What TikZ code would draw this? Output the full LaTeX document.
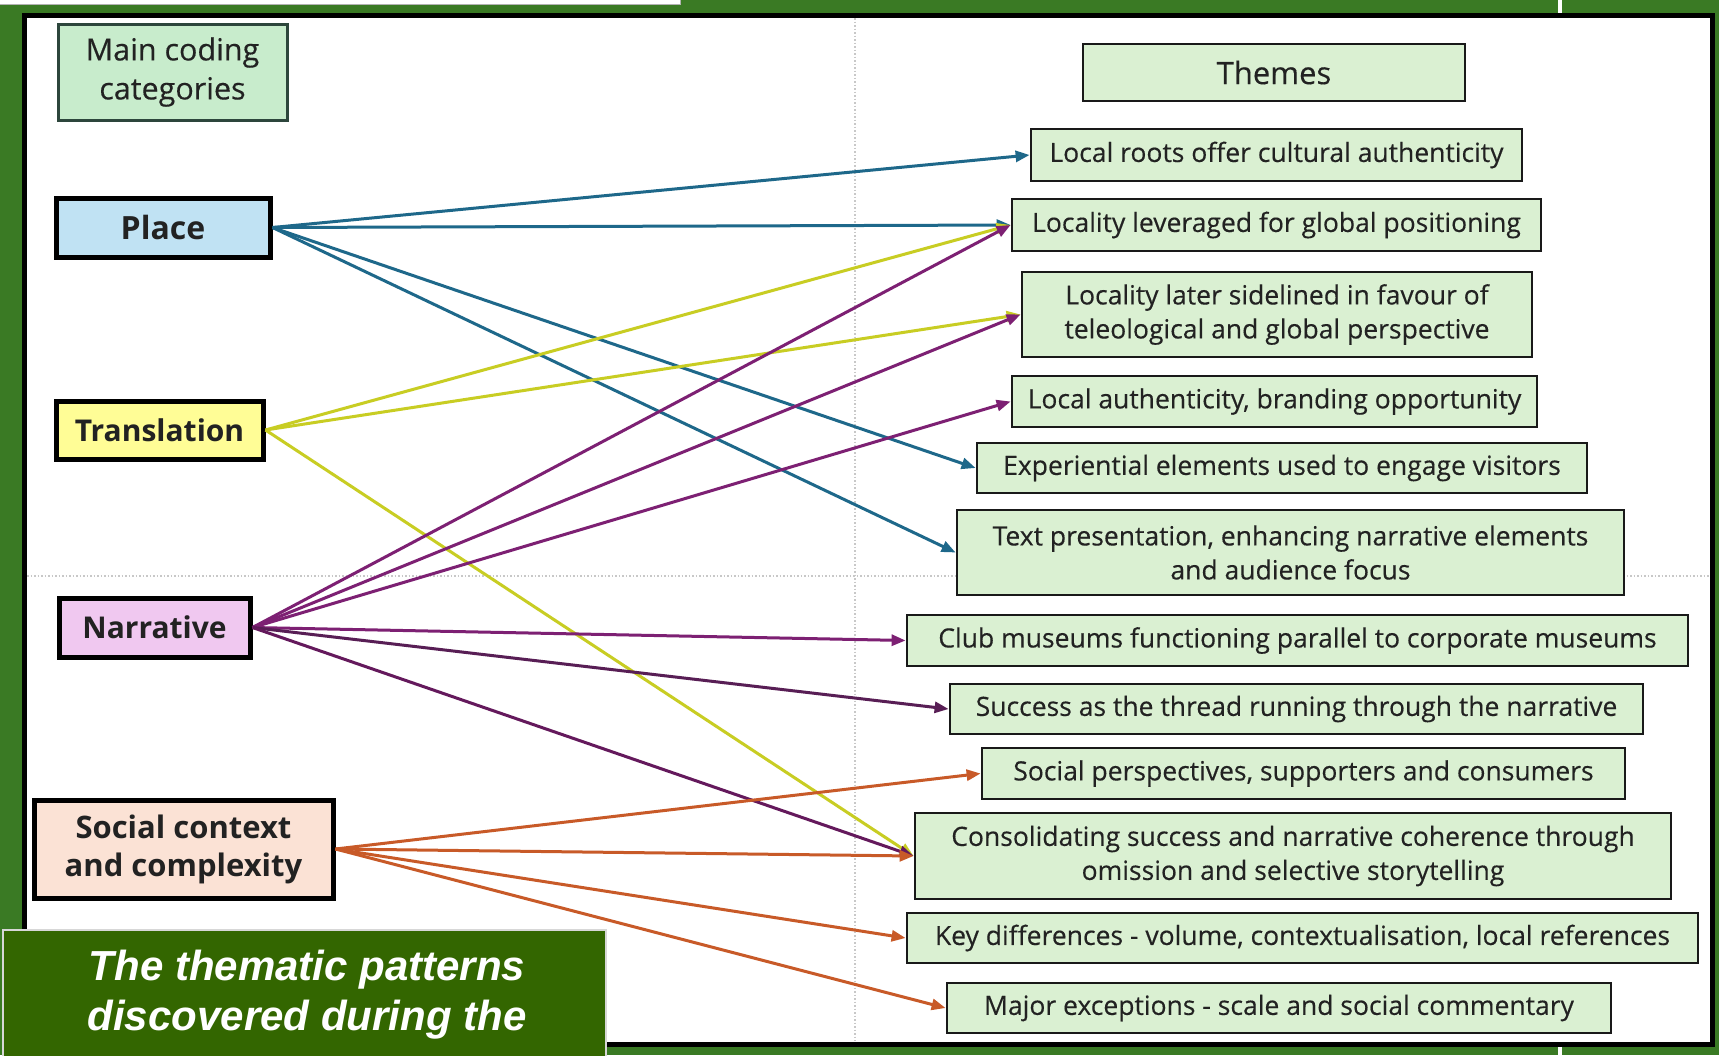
\documentclass[tikz,border=0pt]{standalone}
\usepackage{fontspec}
\setmainfont{Open Sans}
\newfontfamily\themefont[FakeBold=0.3]{Open Sans}
\newfontfamily\capfont{Liberation Sans}
\usetikzlibrary{arrows.meta}
\definecolor{grass}{RGB}{58,122,36}
\definecolor{themefill}{RGB}{218,240,210}
\definecolor{catfill}{RGB}{200,236,204}
\definecolor{catborder}{RGB}{45,70,60}
\definecolor{placefill}{RGB}{192,226,243}
\definecolor{translfill}{RGB}{255,253,150}
\definecolor{narrfill}{RGB}{240,200,240}
\definecolor{socfill}{RGB}{251,226,213}
\definecolor{placec}{RGB}{30,104,138}
\definecolor{translc}{RGB}{200,205,35}
\definecolor{narrc}{RGB}{125,32,115}
\definecolor{narrdark}{RGB}{88,30,85}
\definecolor{socc}{RGB}{200,90,40}
\definecolor{capgreen}{RGB}{51,102,0}
\definecolor{capborder}{RGB}{215,215,215}
\definecolor{divc}{RGB}{200,200,200}
\definecolor{txt}{RGB}{34,34,34}
\begin{document}
\begin{tikzpicture}[x=1pt,y=-1pt,
  theme/.style={draw=black!90, line width=2.8pt, fill=themefill, text=txt,
    font=\themefont\fontsize{26.5}{34}\selectfont, align=center, inner sep=0pt},
  cat/.style={draw=black, line width=5pt, text=txt,
    font=\bfseries\fontsize{30}{38}\selectfont, align=center, inner sep=0pt},
  link/.style={line width=3pt, -{Triangle[length=14pt,width=11pt]}},
  divider/.style={draw=divc, line width=1.5pt, dotted},
  captext/.style={text=white, font=\capfont\fontsize{42}{50}\selectfont\bfseries\itshape, inner sep=0pt}
]
\useasboundingbox (0,0) rectangle (1719,1055);
\fill[grass] (0,0) rectangle (1719,1055);
\draw[white, line width=4pt] (1560,0) -- (1560,1055);
\filldraw[fill=white, draw=gray!60, line width=0.8pt] (-2,-2) rectangle (680,4);
\filldraw[fill=white, draw=black, line width=5pt] (24,15) rectangle (1712,1044);
\draw[divider] (855,18) -- (855,1041);
\draw[divider] (27,576) -- (1709,576);

% left column
\node[draw=catborder, line width=3pt, fill=catfill, text=txt, align=center, inner sep=0pt,
  font=\themefont\fontsize{30.5}{39}\selectfont, minimum width=229pt, minimum height=96pt]
  (maincat) at (172.5,72) {Main coding\\categories};
\node[cat, font=\bfseries\fontsize{32}{38}\selectfont, fill=placefill, minimum width=214pt, minimum height=59pt] (place) at (163,227.5) {Place};
\node[cat, fill=translfill, minimum width=207pt, minimum height=58pt] (transl) at (159.5,430) {Translation};
\node[cat, fill=narrfill, minimum width=191pt, minimum height=59pt] (narr) at (154.5,627.5) {Narrative};
\node[cat, font=\bfseries\fontsize{31}{38}\selectfont, fill=socfill, minimum width=299pt, minimum height=98pt] (social) at (183.5,849) {Social context\\and complexity};

% right column
\node[theme, font=\themefont\fontsize{31}{36}\selectfont, minimum width=382pt, minimum height=57pt] (themes) at (1274,72.5) {Themes};
\node[theme, minimum width=491pt, minimum height=52pt] (t1) at (1276.5,155) {Local roots offer cultural authenticity};
\node[theme, minimum width=529pt, minimum height=52pt] (t2) at (1276.5,225) {Locality leveraged for global positioning};
\node[theme, minimum width=510pt, minimum height=85pt] (t3) at (1277,314.5) {Locality later sidelined in favour of\\teleological and global perspective};
\node[theme, minimum width=525pt, minimum height=51pt] (t4) at (1274.5,401.5) {Local authenticity, branding opportunity};
\node[theme, minimum width=610pt, minimum height=50pt] (t5) at (1282,468) {Experiential elements used to engage visitors};
\node[theme, minimum width=667pt, minimum height=85pt] (t6) at (1290.5,552.5) {Text presentation, enhancing narrative elements\\and audience focus};
\node[theme, minimum width=781pt, minimum height=51pt] (t7) at (1297.5,640.5) {Club museums functioning parallel to corporate museums};
\node[theme, minimum width=693pt, minimum height=50pt] (t8) at (1296.5,709) {Success as the thread running through the narrative};
\node[theme, minimum width=643pt, minimum height=51pt] (t9) at (1303.5,773.5) {Social perspectives, supporters and consumers};
\node[theme, minimum width=756pt, minimum height=86pt] (t10) at (1293,856) {Consolidating success and narrative coherence through\\omission and selective storytelling};
\node[theme, minimum width=791pt, minimum height=50pt] (t11) at (1302.5,938) {Key differences - volume, contextualisation, local references};
\node[theme, minimum width=664pt, minimum height=50pt] (t12) at (1279,1008) {Major exceptions - scale and social commentary};

% connectors
\draw[link, placec] (place.east) -- (t1.west);
\draw[link, placec] (place.east) -- (t2.west);
\draw[link, placec] (place.east) -- (t5.west);
\draw[link, placec] (place.east) -- (t6.west);
\draw[link, translc] (transl.east) -- (t2.west);
\draw[link, translc] (transl.east) -- (t3.west);
\draw[link, translc] (transl.east) -- (t10.west);
\draw[link, narrc] (narr.east) -- (t2.west);
\draw[link, narrc] (narr.east) -- (t3.west);
\draw[link, narrc] (narr.east) -- (t4.west);
\draw[link, narrc] (narr.east) -- (t7.west);
\draw[link, narrdark] (narr.east) -- (t8.west);
\draw[link, narrc!80!black] (narr.east) -- (t10.west);
\draw[link, socc] (social.east) -- (t9.west);
\draw[link, socc] (social.east) -- (t10.west);
\draw[link, socc] (social.east) -- (t11.west);
\draw[link, socc] (social.east) -- (t12.west);

% caption
\node[draw=capborder, fill=capgreen, line width=2pt, minimum width=603pt, minimum height=170pt, inner sep=0pt]
  (capbox) at (304.5,1015) {};
\node[captext, anchor=base] (cap1) at (307,980) {The thematic patterns};
\node[captext, anchor=base] (cap2) at (307,1030) {discovered during the};
\end{tikzpicture}
\end{document}
